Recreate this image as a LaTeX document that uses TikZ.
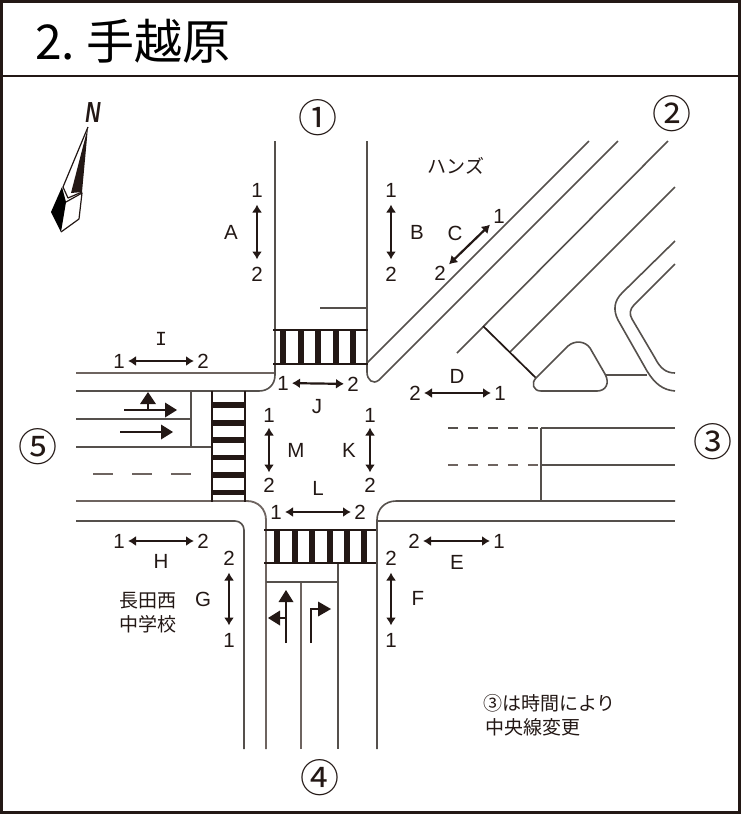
\documentclass[tikz,border=0pt]{standalone}
\usepackage{fontspec}
\setmainfont{Liberation Sans}
\newfontfamily\cjk{Noto Sans CJK JP}
\newfontfamily\serifI{Liberation Mono}
\usetikzlibrary{arrows.meta}
\definecolor{ink}{HTML}{231815}
\definecolor{road}{HTML}{55504C}
\definecolor{roadb}{HTML}{6E6460}
\tikzset{
  road/.style={draw=road,line width=1.6pt},
  roadbrown/.style={draw=roadb,line width=1.8pt},
  stopline/.style={draw=ink,line width=1.7pt},
  dbl/.style={draw=ink,line width=2.2pt,{Latex[length=8pt,width=10pt]}-{Latex[length=8pt,width=10pt]}},
  num/.style={font=\fontsize{20.5}{20}\selectfont,text=ink,inner sep=0pt,outer sep=0pt,minimum width=18pt,minimum height=29pt},
  lett/.style={font=\fontsize{20.5}{20}\selectfont,text=ink,inner sep=0pt},
  ctext/.style={font=\cjk\fontsize{19}{24}\selectfont,text=ink,inner sep=0pt},
  circ/.style={font=\cjk\fontsize{39}{39}\selectfont,text=ink,inner sep=0pt},
  bar/.style={fill=ink,draw=none},
  lane/.style={draw=ink,line width=2.6pt},
  lanehead/.style={fill=ink,draw=none}
}
\begin{document}
\begin{tikzpicture}[x=1pt,y=-1pt]
\useasboundingbox (0,0) rectangle (742,815);
\fill[white] (0,0) rectangle (742,815);
% frame
\draw[ink,line width=3pt] (1.5,1.5) rectangle (739,812.5);
\draw[ink,line width=2.5pt] (1.5,76) -- (739,76);
\node[anchor=base west,inner sep=0pt,text=black,font=\cjk\fontsize{48}{48}\selectfont] (title) at (35,59) {2.\hspace{11pt}手越原};

% compass
\fill[ink] (88,127) -- (71,193) -- (82,192) -- cycle;
\draw[ink,line width=1.2pt,line join=round] (88,127) -- (63,187) -- (68,198) -- (82,192);
\fill[black] (62,187) -- (51,212) -- (61,232) -- (66,202) -- cycle;
\draw[ink,line width=1.2pt,line join=round] (66,202) -- (82,193) -- (79,219) -- (61,232);
\node[inner sep=0pt,text=ink,font=\fontsize{29}{29}\selectfont\itshape\bfseries,xscale=.72] (north) at (93,113) {N};

% road 1
\draw[road] (275,141) -- (275,375) .. controls (275,385) and (268,391) .. (259,391) -- (76,391);
\draw[road] (367,141) -- (367,372) .. controls (367,380) and (373,385) .. (379,380) -- (618,141);
\draw[road] (367,363) -- (589,141);
\draw[road] (320,308) -- (366,308);
% road 5
\draw[roadbrown] (76,373) -- (274,373);
\draw[road] (76,419) -- (191,419);
\draw[road] (76,447) -- (212,447);
\draw[road] (191,391) -- (191,447);
\draw[roadbrown,line width=2.2pt,dash pattern=on 20pt off 19pt] (93,474) -- (191,474);
\draw[roadbrown] (76,501) -- (247,501) .. controls (258,501) and (266,509) .. (266,520) -- (266,749);
\draw[road] (76,521) -- (235,521) .. controls (240,521) and (244,525) .. (244,530) -- (244,749);
% road 4
\draw[roadbrown] (301,582) -- (301,749);
\draw[road] (338,563) -- (338,749);
\draw[road] (266,582) -- (338,582);
% road 3
\draw[road] (377,749) -- (377,520) .. controls (377,509) and (385,501) .. (396,501) -- (675,501);
\draw[road] (377,521) -- (675,521);
\draw[road] (541,428) -- (541,502);
\draw[road] (541,428) -- (675,428);
\draw[road] (541,465) -- (675,465);
\draw[road,dash pattern=on 10pt off 10pt] (448,428) -- (541,428);
\draw[roadbrown,dash pattern=on 10pt off 10pt] (448,465) -- (541,465);
% road 2
\draw[road] (457,353) -- (668,141);
\draw[road] (510,352) -- (675,187);
\draw[stopline] (483,326) -- (536,378);
\draw[road] (536,378) -- (568,346) .. controls (575,340) and (585,341) .. (590,348) -- (605,374) .. controls (610,383) and (606,391) .. (597,391) -- (541,391) .. controls (533,391) and (531,383) .. (536,378);
\draw[road] (606,375) -- (647,375);
\draw[road] (675,241) -- (622,293) .. controls (614,301) and (613,310) .. (618,320) -- (647,371) .. controls (655,384) and (663,390) .. (675,391);
\draw[road] (675,264) -- (634,305) .. controls (630,309) and (629,314) .. (632,319) -- (655,358) .. controls (660,368) and (666,373) .. (675,373);

% crosswalk north
\foreach \bx in {283,301,318,336,353} \fill[bar] (\bx-3.2,330) rectangle (\bx+3.2,364);
\draw[stopline,line width=2.2pt] (273,330) -- (368,330);
\draw[stopline,line width=2.2pt] (273,364) -- (368,364);
% crosswalk west
\foreach \by in {405,423,440,457.5,475,492.6} \fill[bar] (212,\by-2.8) rectangle (245,\by+2.8);
\draw[stopline,line width=2.4pt] (212,391) -- (212,502);
\draw[stopline,line width=2.4pt] (245,391) -- (245,502);
% crosswalk south
\foreach \bx in {277,295,312,330,347,364} \fill[bar] (\bx-3.2,530) rectangle (\bx+3.2,563);
\draw[stopline,line width=2.2pt] (264,530) -- (376,530);
\draw[stopline,line width=2.2pt] (264,563) -- (376,563);

% lane arrows west
\draw[lane] (148,410) -- (148,400);
\fill[lanehead] (148,392) -- (140,404) -- (156,404) -- cycle;
\draw[lane] (124,410) -- (167,410);
\fill[lanehead] (177,410) -- (165,402.5) -- (165,417.5) -- cycle;
\draw[lane] (120,432) -- (163,432);
\fill[lanehead] (173,432) -- (161,424.5) -- (161,439.5) -- cycle;
% lane arrows south
\draw[lane] (286,643) -- (286,600);
\fill[lanehead] (286,590) -- (278.5,602) -- (293.5,602) -- cycle;
\draw[lane] (286,618) -- (278,618);
\fill[lanehead] (268,618) -- (280,610.5) -- (280,625.5) -- cycle;
\draw[lane,line join=miter] (311,643) -- (311,609) -- (320,609);
\fill[lanehead] (331,609) -- (318,601.5) -- (318,616.5) -- cycle;

% direction labels and arrows
\node[num] (A1) at (257,190) {1};
\node[num] (A2) at (257,274) {2};
\node[lett] (A) at (231,232) {A};
\draw[dbl] (A1) -- (A2);
\node[num] (B1) at (391,190) {1};
\node[num] (B2) at (391,274) {2};
\node[lett] (B) at (417,232) {B};
\draw[dbl] (B1) -- (B2);
\node[num] (C1) at (499,216) {1};
\node[num] (C2) at (440,273) {2};
\node[lett] (C) at (455,233) {C};
\draw[dbl] (C1) -- (C2);
\node[num] (D2) at (415,393) {2};
\node[num] (D1) at (500,393) {1};
\node[lett] (D) at (457,376) {D};
\draw[dbl] (D2) -- (D1);
\node[num] (E2) at (414,541) {2};
\node[num] (E1) at (499,541) {1};
\node[lett] (E) at (457,562) {E};
\draw[dbl] (E2) -- (E1);
\node[num] (F2) at (391,558) {2};
\node[num] (F1) at (391,640) {1};
\node[lett] (F) at (418,598) {F};
\draw[dbl] (F2) -- (F1);
\node[num] (G2) at (229,558) {2};
\node[num] (G1) at (229,640) {1};
\node[lett] (G) at (203,599) {G};
\draw[dbl] (G2) -- (G1);
\node[num] (H1) at (119,541) {1};
\node[num] (H2) at (203,541) {2};
\node[lett] (H) at (161,561) {H};
\draw[dbl] (H1) -- (H2);
\node[num] (I1) at (119,361) {1};
\node[num] (I2) at (203,361) {2};
\node[lett,font=\serifI\fontsize{20}{20}\selectfont] (I) at (161,339) {I};
\draw[dbl] (I1) -- (I2);
\node[num] (J1) at (283,383) {1};
\node[num] (J2) at (353,384) {2};
\node[lett] (J) at (317,407) {J};
\draw[dbl] (J1) -- (J2);
\node[num] (K1) at (370,415) {1};
\node[num] (K2) at (370,485) {2};
\node[lett] (K) at (349,450) {K};
\draw[dbl,shorten <=-2pt,shorten >=-2pt] (K1) -- (K2);
\node[num] (L1) at (276,512) {1};
\node[num] (L2) at (360,512) {2};
\node[lett] (L) at (318,488) {L};
\draw[dbl] (L1) -- (L2);
\node[num] (M1) at (269,415) {1};
\node[num] (M2) at (269,485) {2};
\node[lett] (M) at (296,450) {M};
\draw[dbl,shorten <=-2pt,shorten >=-2pt] (M1) -- (M2);

% place names
\node[ctext] (hans) at (456,166) {ハンズ};
\node[ctext,align=center] (school) at (148,613) {長田西\\中学校};
\node[ctext,anchor=west] (note1) at (483,703) {③は時間により};
\node[ctext,anchor=west] (note2) at (485,727) {中央線変更};

% approach numbers
\node[circ] (r1) at (318,118) {①};
\node[circ] (r2) at (672,114) {②};
\node[circ] (r3) at (713,442) {③};
\node[circ] (r4) at (320,778) {④};
\node[circ] (r5) at (38,447) {⑤};
\end{tikzpicture}
\end{document}
